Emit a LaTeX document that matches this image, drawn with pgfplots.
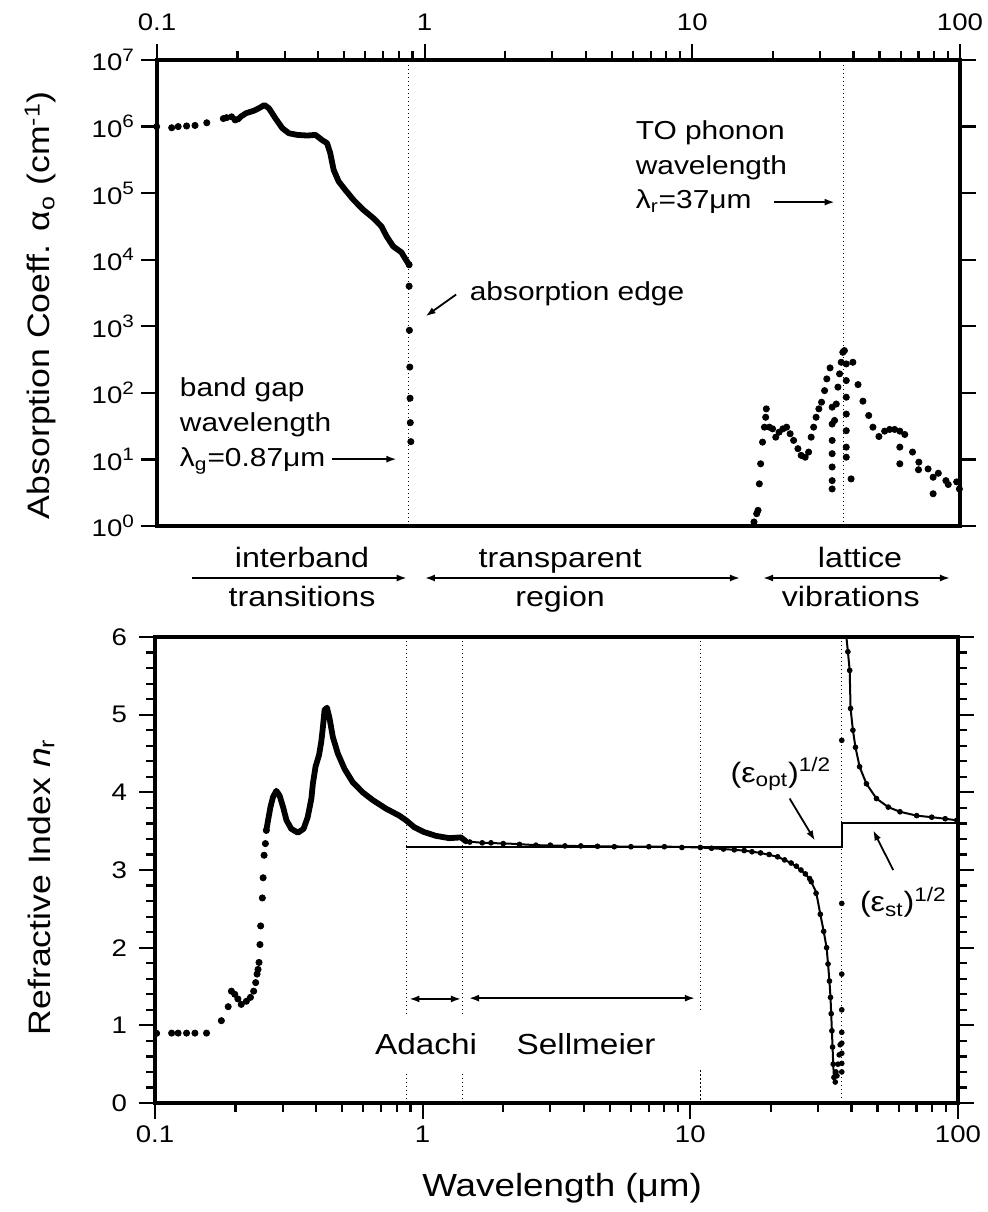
\documentclass[border=0pt]{standalone}
\usepackage{fontspec}
\setmainfont{Liberation Sans}[FakeStretch=1.15]
\usepackage{pgfplots}
\pgfplotsset{compat=1.18}
\usetikzlibrary{arrows.meta}
\newcommand\fa{\fontsize{13}{15}\selectfont}
\newcommand\fb{\fontsize{14}{16}\selectfont}
\newcommand\tsup[1]{\raisebox{0.4em}{\fontsize{9}{9}\selectfont #1}}
\pgfplotsset{
  gdots/.style={only marks, mark=*, mark size=1.55pt, black},
  gsdots/.style={only marks, mark=*, mark size=1.2pt, black},
  gdens/.style={black, line width=2.9pt, line cap=round, line join=round, no marks},
  gvdot/.style={black, line width=0.6pt, dash pattern=on 0.6pt off 1.4pt, no marks},
}
\tikzset{
  garr/.style={line width=0.9pt, -{Latex[length=5pt,width=3.5pt]}},
  gdarr/.style={line width=0.9pt, {Latex[length=5pt,width=3.5pt]}-{Latex[length=5pt,width=3.5pt]}},
  lt/.style={anchor=base west, inner sep=0pt},
}
\begin{document}
\begin{tikzpicture}
\useasboundingbox (0pt,0pt) rectangle (494pt,606pt);
% ---------------- top: absorption ----------------
\begin{axis}[name=top, at={(78.5pt,343pt)}, anchor=south west,
  scale only axis, width=401.5pt, height=233pt,
  xmode=log, xmin=0.1, xmax=100,
  clip=false,
  axis line style={line width=1.6pt},
  every tick/.style={line width=1.1pt,black},
  major tick length=8pt, minor tick length=4.5pt,
  tick align=outside,
  tick label style={font=\fontsize{12}{14}\selectfont},
  xticklabel style={yshift=3pt},
  xtick={0.1,1,10,100}, xticklabels={0.1,1,10,100},
  ymode=log, ymin=1, ymax=1e7,
  ytick={1,10,100,1000,1e4,1e5,1e6,1e7},
  yticklabels={10\tsup{0},10\tsup{1},10\tsup{2},10\tsup{3},10\tsup{4},10\tsup{5},10\tsup{6},10\tsup{7}},
  yminorticks=false,
  xtick pos=right, xticklabel pos=right,
  ytick pos=both, yticklabel pos=left,
  ylabel={Absorption Coeff. α\textsubscript{o} (cm\textsuperscript{-1})},
  ylabel style={at={(axis description cs:-0.1333,0.474)}, anchor=base, font=\fontsize{15.5}{18}\selectfont},
]
\addplot[gvdot] coordinates {(0.87,1) (0.87,1e7)};
\addplot[gvdot] coordinates {(36.8,1) (36.8,1e7)};
\addplot[gdots] coordinates {(0.0997,1.0e6) (0.1135,0.96e6) (0.120,1.0e6) (0.129,1.02e6) (0.1387,1.04e6) (0.1535,1.14e6) (0.177,1.32e6) (0.182,1.36e6) (0.190,1.4e6) (0.196,1.26e6)};
\addplot[gdens] coordinates {(0.196,1.3e6) (0.200,1.26e6) (0.2056,1.41e6) (0.215,1.585e6) (0.231,1.74e6) (0.244,1.95e6) (0.252,2.11e6) (0.262,1.88e6) (0.277,1.33e6) (0.294,9.44e5) (0.311,7.94e5) (0.334,7.5e5) (0.364,7.33e5) (0.391,7.5e5) (0.413,6.31e5) (0.432,5.62e5) (0.444,3.98e5) (0.457,2.24e5) (0.477,1.5e5) (0.505,1.12e5) (0.542,7.94e4) (0.590,5.62e4) (0.643,4.22e4) (0.690,3.16e4) (0.721,2.24e4) (0.763,1.585e4) (0.819,1.29e4) (0.843,1.06e4) (0.875,8.4e3)};
\addplot[gdots] coordinates {(0.875,8.4e3) (0.875,4.0e3) (0.877,870) (0.880,244) (0.882,83) (0.884,35.7) (0.888,18.5)};
\addplot[gdots] coordinates {
(17.0,1.15) (17.4,1.53) (17.6,1.72) (17.8,4.3) (18.0,8.6) (18.3,18.2) (18.6,30.5) (18.8,43) (18.9,57.5)
(19.4,30.5) (19.95,28.8) (20.5,21.6) (21.1,25.7) (21.8,28.8) (22.5,30.5) (23.2,24.3) (23.9,19.3) (24.8,14.5)
(25.5,11.5) (26.4,10.8) (27.2,12.9) (27.8,21.6) (28.4,30.5) (29.0,43) (29.7,57.5) (30.4,72.4) (31.2,108)
(31.8,162) (32.7,237)
(33.3,61) (33.3,34) (33.3,19.3) (33.3,12.2) (33.3,7.7) (33.3,4.8) (33.3,3.6)
(34.0,38.5) (34.5,68) (35.0,122) (35.5,193) (36.0,288) (36.5,407) (37.0,431)
(37.6,272) (37.6,153) (37.6,86) (37.6,48) (37.6,27) (37.6,15.3) (37.6,10.8)
(39.2,5.1) (39.8,288) (41.6,133) (43.4,75) (45.6,45.7) (47.3,30.5) (49.8,22.1) (52.3,26.6) (54.6,28.2)
(57.0,28.2) (59.6,26.6) (62.2,23.7) (59.6,15.3) (59.6,8.6) (66.5,12.9) (70.2,9.1) (70.0,7.0) (76.0,7.2)
(79.4,5.4) (79.4,3.05) (83.0,6.2) (88.6,4.8) (90.4,4.2) (97.2,4.6) (99.5,3.6)};
\node[lt, font=\fa] at (axis cs:1.47,2470) {absorption edge};
\draw[garr] (axis cs:1.311,3000) -- (axis cs:1.0086,1416);
\node[lt, font=\fa] at (axis cs:0.1214,88) {band gap};
\node[lt, font=\fa] at (axis cs:0.1214,26.1) {wavelength};
\node[lt, font=\fa] at (axis cs:0.1214,7.75) {λ\textsubscript{g}=0.87μm};
\draw[garr] (axis cs:0.450,10.1) -- (axis cs:0.785,10.1);
\node[lt, font=\fa] at (axis cs:6.13,6.3e5) {TO phonon};
\node[lt, font=\fa] at (axis cs:6.13,1.9e5) {wavelength};
\node[lt, font=\fa] at (axis cs:6.13,5.82e4) {λ\textsubscript{r}=37μm};
\draw[garr] (axis cs:20.2,7.33e4) -- (axis cs:34.0,7.33e4);
\node[anchor=base, font=\fb] at (rel axis cs:0.1806,-0.088) {interband};
\node[anchor=base, font=\fb] at (rel axis cs:0.1806,-0.1717) {transitions};
\draw[garr] (rel axis cs:0.0436,-0.1116) -- (rel axis cs:0.311,-0.1116);
\node[anchor=base, font=\fb] at (rel axis cs:0.502,-0.088) {transparent};
\node[anchor=base, font=\fb] at (rel axis cs:0.502,-0.1717) {region};
\draw[gdarr] (rel axis cs:0.3337,-0.1116) -- (rel axis cs:0.726,-0.1116);
\node[anchor=base, font=\fb] at (rel axis cs:0.8755,-0.088) {lattice};
\node[anchor=base, font=\fb] at (rel axis cs:0.864,-0.1717) {vibrations};
\draw[gdarr] (rel axis cs:0.7547,-0.1116) -- (rel axis cs:0.9875,-0.1116);
\end{axis}
% ---------------- bottom: refractive index ----------------
\begin{axis}[name=bot, at={(77.5pt,54.5pt)}, anchor=south west,
  scale only axis, width=401.5pt, height=233pt,
  xmode=log, xmin=0.1, xmax=100,
  clip=false,
  axis line style={line width=1.6pt},
  every tick/.style={line width=1.1pt,black},
  major tick length=8pt, minor tick length=4.5pt,
  tick align=outside,
  tick label style={font=\fontsize{12}{14}\selectfont},
  yticklabel style={xshift=-2.5pt},
  xtick={0.1,1,10,100}, xticklabels={0.1,1,10,100},
  ymin=0, ymax=6, ytick={0,1,2,3,4,5,6}, minor y tick num=4,
  yticklabels={0,1,2,3,4,5,6},
  xtick pos=left, xticklabel pos=left,
  ytick pos=both, yticklabel pos=left,
  xlabel={Wavelength (μm)},
  xlabel style={at={(axis description cs:0.507,-0.1996)}, anchor=base, font=\fontsize{16}{18}\selectfont},
  ylabel={Refractive Index \textit{n}\textsubscript{r}},
  ylabel style={at={(axis description cs:-0.1306,0.4635)}, anchor=base, font=\fontsize{15.5}{18}\selectfont},
]
\addplot[gvdot] coordinates {(0.87,6) (0.87,1.145)};
\addplot[gvdot] coordinates {(0.87,0.376) (0.87,0)};
\addplot[gvdot] coordinates {(1.41,6) (1.41,1.145)};
\addplot[gvdot] coordinates {(1.41,0.376) (1.41,0)};
\addplot[gvdot] coordinates {(10.9,6) (10.9,1.19)};
\addplot[gvdot] coordinates {(10.9,0.42) (10.9,0)};
\addplot[gvdot] coordinates {(36.8,6) (36.8,0)};
\addplot[black, line width=0.9pt, no marks] coordinates {(0.867,3.30) (36.8,3.30) (36.8,3.61) (100,3.61)};
\addplot[gdots] coordinates {(0.1014,0.897) (0.1154,0.9) (0.122,0.9) (0.1312,0.9) (0.141,0.9) (0.1558,0.9)
(0.177,1.06) (0.1877,1.24) (0.193,1.44) (0.1986,1.40) (0.204,1.34) (0.210,1.27) (0.2195,1.31) (0.2273,1.36)
(0.2337,1.44) (0.2378,1.55) (0.2406,1.66) (0.2426,1.72) (0.2447,1.81) (0.2467,2.04) (0.2482,2.28) (0.2518,2.64)
(0.2535,2.90) (0.2556,3.19) (0.2585,3.34) (0.2606,3.51)};
\addplot[gdens] coordinates {(0.2606,3.51) (0.2645,3.64) (0.270,3.81) (0.276,3.94) (0.284,4.02) (0.292,3.96) (0.301,3.81)
(0.310,3.64) (0.323,3.53) (0.342,3.48) (0.359,3.53) (0.372,3.68) (0.384,3.92) (0.389,4.11) (0.398,4.33)
(0.410,4.48) (0.418,4.65) (0.424,4.84) (0.430,5.06) (0.439,5.09) (0.449,4.95) (0.462,4.71) (0.482,4.50)
(0.511,4.30) (0.548,4.13) (0.597,4.00) (0.651,3.90) (0.730,3.79) (0.818,3.70) (0.867,3.64) (0.931,3.55)
(1.01,3.49) (1.12,3.44) (1.257,3.41) (1.39,3.42) (1.45,3.37)};
\addplot[black, line width=1pt, no marks] coordinates {(1.45,3.37) (1.67,3.35) (2.1,3.34) (2.65,3.32) (3.54,3.31)
(4.72,3.305) (6.3,3.30) (8.4,3.30) (10.9,3.29) (13.3,3.27) (15.9,3.25) (18.3,3.22) (21.2,3.17) (23.8,3.09)
(25.9,3.00) (27.9,2.89) (29.5,2.72) (30.6,2.43) (31.5,2.21) (32.3,2.0) (32.7,1.79) (33.1,1.57) (33.4,1.36)
(33.6,1.15) (33.8,0.93) (34.0,0.72) (34.2,0.50) (34.4,0.33) (34.8,0.27)};
\addplot[black, line width=1pt, no marks] coordinates {(38.3,6.0) (38.8,5.81) (39.4,5.57) (39.7,5.08) (40.5,4.80)
(41.4,4.58) (42.9,4.33) (45.5,4.11) (49.6,3.92) (54.9,3.81) (60.7,3.75) (70.1,3.70) (79.8,3.68) (89.6,3.66) (99,3.64)};
\addplot[gsdots] coordinates {(1.5,3.36) (1.67,3.35) (1.8,3.35) (2.0,3.34) (2.3,3.33) (2.65,3.32) (3.0,3.32)
(3.4,3.31) (3.9,3.31) (4.5,3.305) (5.2,3.30) (6.0,3.30) (7.0,3.30) (8.0,3.30) (9.3,3.29) (10.9,3.29)
(12.0,3.28) (13.3,3.27) (14.6,3.26) (15.9,3.25) (17.0,3.235) (18.3,3.22) (19.7,3.20) (21.2,3.17) (22.5,3.13)
(23.8,3.09) (24.9,3.05) (25.9,3.00) (26.9,2.95) (27.9,2.89) (28.3,2.85) (29.5,2.70) (30.6,2.43) (31.5,2.21)
(32.3,2.0) (32.7,1.79) (33.1,1.57) (33.4,1.36) (33.6,1.15) (33.8,0.93) (34.0,0.72) (34.2,0.50) (34.4,0.33)
(34.8,0.27) (35.0,0.40) (35.3,0.35) (35.6,0.50) (36.0,0.62) (36.3,0.75)
(36.8,4.67) (36.8,2.57) (36.8,1.66) (36.8,1.2) (36.8,0.91) (36.8,0.77) (36.8,0.64) (36.8,0.51) (36.8,0.40)
(38.8,5.81) (39.4,5.57) (39.7,5.08) (40.5,4.80) (41.4,4.58) (42.9,4.33) (45.5,4.11) (49.6,3.92) (54.9,3.81)
(60.7,3.75) (70.1,3.70) (79.8,3.68) (89.6,3.66) (99,3.64)};
\node[lt, font=\fb] at (axis cs:14.1,4.13) {(ε\textsubscript{opt})\textsuperscript{1/2}};
\draw[garr] (axis cs:23.5,3.92) -- (axis cs:29.2,3.38);
\node[lt, font=\fb] at (axis cs:42.9,2.46) {(ε\textsubscript{st})\textsuperscript{1/2}};
\draw[garr] (axis cs:57.3,3.00) -- (axis cs:48.2,3.51);
\draw[gdarr] (axis cs:0.892,1.34) -- (axis cs:1.39,1.34);
\draw[gdarr] (axis cs:1.49,1.35) -- (axis cs:10.4,1.35);
\node[anchor=base, font=\fontsize{14.5}{17}\selectfont] at (axis cs:1.03,0.63) {Adachi};
\node[anchor=base, font=\fontsize{14.5}{17}\selectfont] at (axis cs:4.08,0.63) {Sellmeier};
\end{axis}
\end{tikzpicture}
\end{document}
